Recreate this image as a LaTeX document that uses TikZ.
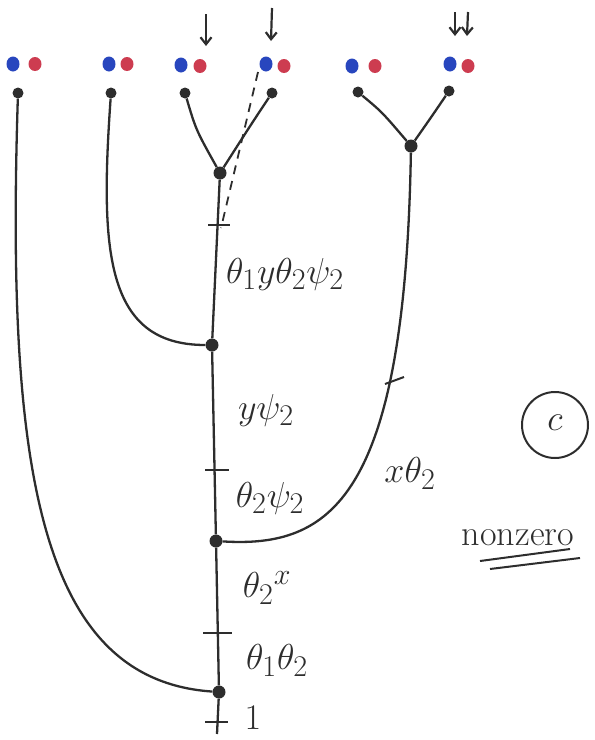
\documentclass[tikz,border=0pt]{standalone}
\usetikzlibrary{arrows.meta,shapes.geometric}
\definecolor{ink}{RGB}{45,45,45}
\definecolor{dotblue}{RGB}{40,70,190}
\definecolor{dotred}{RGB}{205,60,80}
\begin{document}
\begin{tikzpicture}[x=1pt,y=-1pt,
  wire/.style={draw=ink,line width=2.3pt},
  tickmark/.style={draw=ink,line width=2pt},
  bdot/.style={ellipse,fill=dotblue,inner sep=0pt,minimum width=13pt,minimum height=15pt},
  rdot/.style={ellipse,fill=dotred,inner sep=0pt,minimum width=13pt,minimum height=14pt},
  kdot/.style={circle,fill=ink,inner sep=0pt,minimum size=11pt},
  jdot/.style={circle,fill=ink,inner sep=0pt,minimum size=13pt},
  lab/.style={font=\Huge,text=ink,inner sep=0pt,scale=1.45},
  arr/.style={draw=ink,line width=2.2pt,-{Straight Barb[length=7pt,width=11pt]}}]
\useasboundingbox (0,0) rectangle (595,740);
% coloured pairs
\node[bdot] (b1) at (13,64) {}; \node[rdot] (r1) at (35,64) {};
\node[bdot] (b2) at (109,64) {}; \node[rdot] (r2) at (127,64) {};
\node[bdot] (b3) at (181,65) {}; \node[rdot] (r3) at (200,66) {};
\node[bdot] (b4) at (266,64) {}; \node[rdot] (r4) at (284,66) {};
\node[bdot] (b5) at (352,66) {}; \node[rdot] (r5) at (375,66) {};
\node[bdot] (b6) at (450,64) {}; \node[rdot] (r6) at (468,66) {};
% arrows
\coordinate (a1s) at (206,14); \coordinate (a1e) at (206,46);
\coordinate (a2s) at (272,8); \coordinate (a2e) at (271,41);
\coordinate (a3s) at (455,12); \coordinate (a3e) at (455,36);
\coordinate (a4s) at (468,12); \coordinate (a4e) at (467,36);
\draw[arr] (a1s) -- (a1e);
\draw[arr] (a2s) -- (a2e);
\draw[arr] (a3s) -- (a3e);
\draw[arr] (a4s) -- (a4e);
% endpoints
\node[kdot] (e1) at (18,93) {};
\node[kdot] (e2) at (111,93) {};
\node[kdot] (e3) at (185,93) {};
\node[kdot] (e4) at (272,93) {};
\node[kdot] (e5) at (358,92) {};
\node[kdot] (e6) at (449,91) {};
% junctions
\node[jdot] (A) at (220,173) {};
\node[jdot] (D) at (411,146) {};
\node[jdot] (B) at (212,345) {};
\node[jdot] (C) at (216,541) {};
\node[jdot] (E) at (219,692) {};
\coordinate (bot) at (217,734);
% connectors
\draw[wire] (e3) .. controls (196,130) .. (A);
\draw[wire] (e4) .. controls (252,123) .. (A);
\draw[wire] (e5) .. controls (382,112) .. (D);
\draw[wire] (e6) .. controls (432,116) .. (D);
\draw[wire] (A) -- (B) -- (C) -- (E) -- (bot);
\draw[wire] (e2) .. controls (100,250) and (105,345) .. (B);
\draw[wire] (e1) .. controls (6,470) and (40,680) .. (E);
\draw[wire] (D) .. controls (405,500) and (330,548) .. (C);
% dashed line
\coordinate (ds) at (258,72); \coordinate (de) at (221,228);
\draw[draw=ink,line width=1.8pt,dash pattern=on 9pt off 7pt] (ds) -- (de);
% ticks
\coordinate (t1) at (219,225); \coordinate (t2) at (217,470);
\coordinate (t3) at (217,633); \coordinate (t4) at (216,722);
\coordinate (t5) at (394,381);
\draw[tickmark] ([xshift=-11pt]t1) -- ([xshift=11pt]t1);
\draw[tickmark] ([xshift=-12pt]t2) -- ([xshift=12pt]t2);
\draw[tickmark] ([xshift=-14pt]t3) -- ([xshift=15pt]t3);
\draw[tickmark] ([xshift=-11pt]t4) -- ([xshift=12pt]t4);
\draw[tickmark] ([xshift=-9pt,yshift=-3pt]t5) -- ([xshift=10pt,yshift=4pt]t5);
% labels
\node[lab] (l1) at (285,274) {$\theta_1 y\theta_2\psi_2$};
\node[lab] (l2) at (266,410) {$y\psi_2$};
\node[lab] (l3) at (270,498) {$\theta_2\psi_2$};
\node[lab] (l4) at (267,588) {$\theta_2{}^{x}$};
\node[lab] (l5) at (277,660) {$\theta_1\theta_2$};
\node[lab] (l6) at (253,718) {$1$};
\node[lab] (l7) at (410,473) {$x\theta_2$};
\node[lab] (ctext) at (555,423) {$c$};
\node[draw=ink,line width=2pt,circle,minimum size=66pt,inner sep=0pt] (cc) at (555,425) {};
\node[lab] (nz) at (518,538) {nonzero};
\coordinate (u1a) at (480,561); \coordinate (u1b) at (570,549);
\coordinate (u2a) at (490,569); \coordinate (u2b) at (580,558);
\draw[tickmark] (u1a) -- (u1b);
\draw[tickmark] (u2a) -- (u2b);
\end{tikzpicture}
\end{document}
